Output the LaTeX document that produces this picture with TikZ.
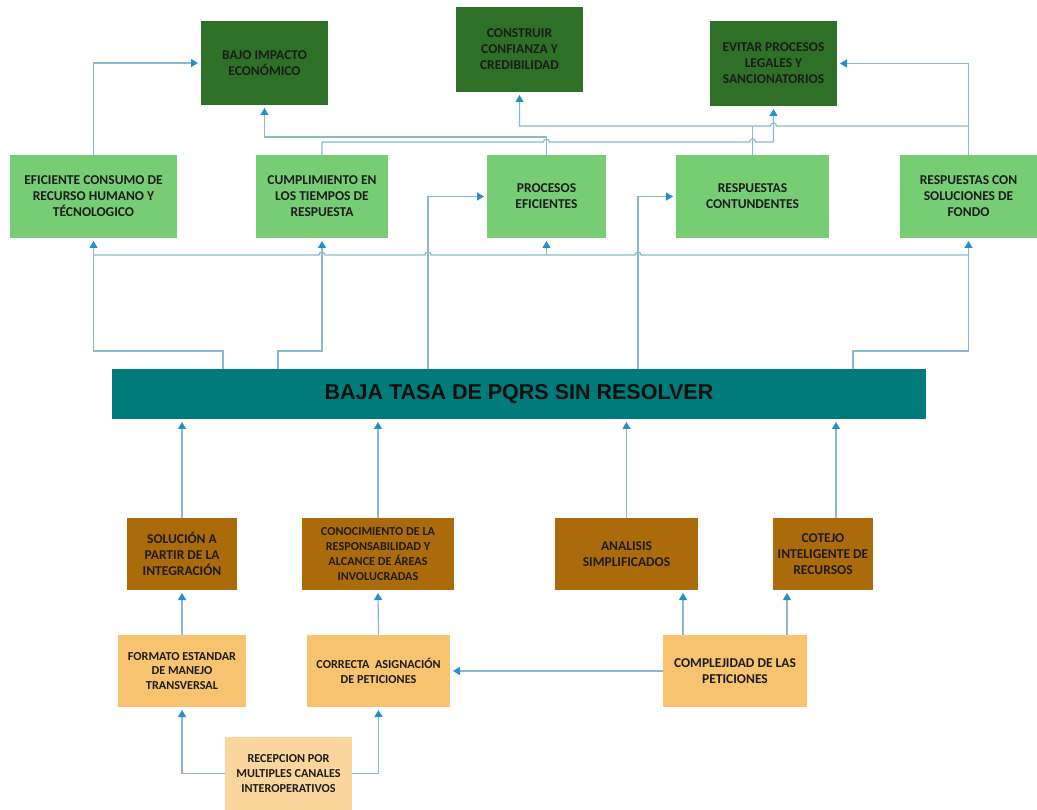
\documentclass[tikz,border=0pt]{standalone}
\usepackage{fontspec}
\setmainfont{Carlito}
\newfontfamily\arialf{Liberation Sans}
\usetikzlibrary{arrows.meta}
\definecolor{dkgreen}{RGB}{46,112,40}
\definecolor{ltgreen}{RGB}{119,205,116}
\definecolor{tealc}{RGB}{0,122,122}
\definecolor{brownc}{RGB}{172,107,10}
\definecolor{orangec}{RGB}{248,195,110}
\definecolor{paleorange}{RGB}{251,214,156}
\definecolor{linec}{RGB}{139,184,204}
\definecolor{tipc}{RGB}{38,142,206}
\definecolor{txtc}{RGB}{28,28,28}
\begin{document}
\begin{tikzpicture}[x=1pt,y=1pt,
  box/.style={rectangle, inner sep=2pt, outer sep=0pt, align=center, text=txtc,
    font=\bfseries\fontsize{13.5}{16}\selectfont},
  small/.style={font=\bfseries\fontsize{12.2}{14.8}\selectfont},
  gd/.style={box, fill=dkgreen},
  gl/.style={box, fill=ltgreen},
  br/.style={box, fill=brownc},
  orb/.style={box, fill=orangec},
  por/.style={box, fill=paleorange},
  wire/.style={draw=linec, line width=1.2pt},
  conn/.style={wire, -{Triangle[length=7pt,width=8pt,color=tipc]}, shorten >=3pt},
]
\fill[white] (0,0) rectangle (1037,-810);
\useasboundingbox (0,0) rectangle (1037,-810);

% top row
\node[gd, minimum width=127pt, minimum height=84pt] (bajo) at (264.5,-63) {BAJO IMPACTO\\ECONÓMICO};
\node[gd, minimum width=127pt, minimum height=85pt] (constr) at (519.5,-49.5) {CONSTRUIR\\CONFIANZA Y\\CREDIBILIDAD};
\node[gd, minimum width=127pt, minimum height=85pt] (evitar) at (773.5,-63.5) {EVITAR PROCESOS\\LEGALES Y\\SANCIONATORIOS};

% second row
\node[gl, minimum width=167pt, minimum height=83pt] (efic) at (93.5,-196.5) {EFICIENTE CONSUMO DE\\RECURSO HUMANO Y\\TÉCNOLOGICO};
\node[gl, minimum width=132pt, minimum height=83pt] (cumpl) at (322,-196.5) {CUMPLIMIENTO EN\\LOS TIEMPOS DE\\RESPUESTA};
\node[gl, minimum width=119pt, minimum height=83pt] (proc) at (546.5,-196.5) {PROCESOS\\EFICIENTES};
\node[gl, minimum width=153pt, minimum height=83pt] (rc) at (752.5,-196.5) {RESPUESTAS\\CONTUNDENTES};
\node[gl, minimum width=137pt, minimum height=83pt] (rcsf) at (968.5,-196.5) {RESPUESTAS CON\\SOLUCIONES DE\\FONDO};

% main bar
\node[box, fill=tealc, minimum width=814pt, minimum height=50pt, font=\arialf\bfseries\fontsize{21.5}{24}\selectfont, text={rgb,255:red,15;green,15;blue,15}] (baja) at (519,-394) {BAJA TASA DE PQRS SIN RESOLVER};

% brown row
\node[br, minimum width=110pt, minimum height=72pt] (sol) at (182,-554) {SOLUCIÓN A\\PARTIR DE LA\\INTEGRACIÓN};
\node[br, small, minimum width=152pt, minimum height=72pt] (conoc) at (378,-554) {CONOCIMIENTO DE LA\\RESPONSABILIDAD Y\\ALCANCE DE ÁREAS\\INVOLUCRADAS};
\node[br, minimum width=143pt, minimum height=72pt] (anal) at (626.5,-554) {ANALISIS\\SIMPLIFICADOS};
\node[br, minimum width=100pt, minimum height=72pt] (cotejo) at (823,-554) {COTEJO\\INTELIGENTE DE\\RECURSOS};

% orange row
\node[orb, small, minimum width=128pt, minimum height=72pt] (formato) at (182,-671) {FORMATO ESTANDAR\\DE MANEJO\\TRANSVERSAL};
\node[orb, small, minimum width=143pt, minimum height=72pt] (correcta) at (378.5,-671) {CORRECTA~~ASIGNACIÓN\\DE PETICIONES};
\node[orb, minimum width=144pt, minimum height=72pt] (compl) at (735,-671) {COMPLEJIDAD DE LAS\\PETICIONES};
\node[por, small, minimum width=127pt, minimum height=73pt] (recep) at (288.5,-773.5) {RECEPCION POR\\MULTIPLES CANALES\\INTEROPERATIVOS};

% ---- top connectors
\draw[conn] (efic.north) |- (bajo.west);
\draw[conn] (proc.north) -- ++(0,18) -| (bajo.south);
\draw[conn] (cumpl.north) |- (543.5,-142) arc[start angle=180,end angle=0,radius=3]
  -- (749.5,-142) arc[start angle=180,end angle=0,radius=3]
  -- (evitar.south |- 0,-142) -- (evitar.south);
\draw[wire] (rc.north) -- (rc.north |- 0,-126);
\draw[conn] (rcsf.north) |- (evitar.east);
\draw[conn] (rcsf.north |- 0,-126) -- (776.5,-126) arc[start angle=0,end angle=180,radius=3]
  -- (constr.south |- 0,-126) -- (constr.south);

% ---- middle connectors
\draw[conn] (baja.north -| 223,0) -- (223,-351) -| (efic.south);
\draw[conn] (baja.north -| 278,0) -- (278,-351) -| (cumpl.south);
\draw[conn] (baja.north -| 428,0) |- (proc.west);
\draw[conn] (baja.north -| 638,0) |- (rc.west);
\draw[conn] (baja.north -| 853,0) -- (853,-351) -| (rcsf.south);
\draw[wire] (efic.south |- 0,-255) -- (319,-255) arc[start angle=180,end angle=0,radius=3]
  -- (425,-255) arc[start angle=180,end angle=0,radius=3]
  -- (635,-255) arc[start angle=180,end angle=0,radius=3]
  -- (rcsf.south |- 0,-255);
\draw[conn] (proc.south |- 0,-255) -- (proc.south);

% ---- bottom connectors
\draw[conn] (sol.north) -- (sol.north |- baja.south);
\draw[conn] (conoc.north) -- (conoc.north |- baja.south);
\draw[conn] (anal.north) -- (anal.north |- baja.south);
\draw[conn] (cotejo.north -| 836,0) -- (baja.south -| 836,0);
\draw[conn] (formato.north) -- (sol.south);
\draw[conn] (correcta.north) -- (conoc.south);
\draw[conn] (compl.west) -- (correcta.east);
\draw[conn] (compl.north -| 683,0) -- (anal.south -| 683,0);
\draw[conn] (compl.north -| 787,0) -- (cotejo.south -| 787,0);
\draw[conn] (recep.west) -| (formato.south);
\draw[conn] (recep.east) -| (correcta.south);
\end{tikzpicture}
\end{document}
